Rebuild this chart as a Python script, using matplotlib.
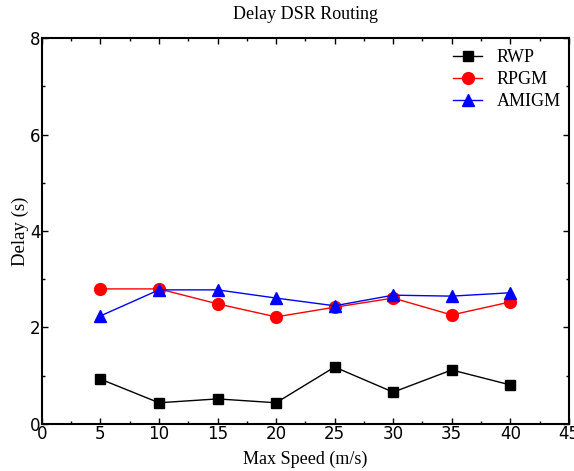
import numpy as np
import matplotlib.pyplot as plt
from matplotlib.ticker import MultipleLocator

speed = [5, 10, 15, 20, 25, 30, 35, 40]
rwp = [0.93, 0.44, 0.52, 0.44, 1.18, 0.66, 1.12, 0.81]
rpgm = [2.80, 2.80, 2.49, 2.22, 2.42, 2.61, 2.26, 2.53]
amigm = [2.24, 2.78, 2.78, 2.61, 2.45, 2.67, 2.65, 2.72]

serif = 'Liberation Serif'
sans = 'Liberation Sans Narrow'

fig = plt.figure(figsize=(5.74, 4.71), dpi=100)
ax = fig.add_axes([0.073, 0.0998, 0.918, 0.8195])

ax.plot(speed, rwp, color='black', marker='s', markersize=7.5, linewidth=1, label='RWP')
ax.plot(speed, rpgm, color='red', marker='o', markersize=8.5, linewidth=1, label='RPGM')
ax.plot(speed, amigm, color='blue', marker='^', markersize=8.5, linewidth=1, label='AMIGM')

ax.set_xlim(0, 45)
ax.set_ylim(0, 8)
ax.xaxis.set_major_locator(MultipleLocator(5))
ax.xaxis.set_minor_locator(MultipleLocator(2.5))
ax.yaxis.set_major_locator(MultipleLocator(2))
ax.yaxis.set_minor_locator(MultipleLocator(1))
ax.tick_params(which='both', direction='in', top=True, right=True, width=1)
ax.tick_params(which='major', length=4, labelsize=12, pad=1)
ax.tick_params(which='minor', length=2)
for lab in ax.get_xticklabels() + ax.get_yticklabels():
    lab.set_fontfamily(sans)
for s in ax.spines.values():
    s.set_linewidth(1.5)

ax.set_title('Delay DSR Routing', fontsize=13, fontfamily=serif, pad=14)
ax.set_xlabel('Max Speed (m/s)', fontsize=13, fontfamily=serif, labelpad=5)
ax.set_ylabel('Delay (s)', fontsize=13.5, fontfamily=serif)
ax.yaxis.set_label_coords(-0.025, 0.5)
ax.legend(loc='upper right', bbox_to_anchor=(0.998, 0.99), frameon=False,
          prop={'family': serif, 'size': 13},
          handlelength=1.6, handletextpad=0.8, labelspacing=0.28, borderaxespad=0.0)

fig.savefig('out.png', dpi=100)
